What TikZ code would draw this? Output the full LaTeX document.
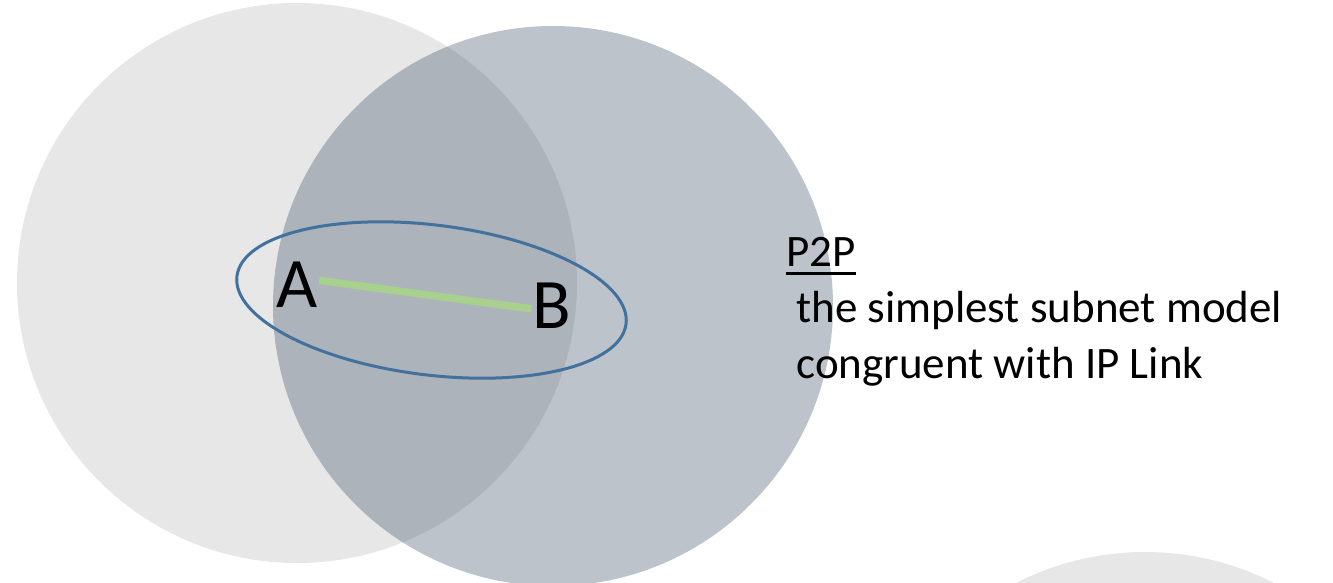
\documentclass[tikz,border=0pt]{standalone}
\usepackage{fontspec}
\setmainfont{Carlito}
\usepackage{tikz}
\usetikzlibrary{shapes.geometric}
\definecolor{lightdisc}{HTML}{E7E7E7}
\definecolor{slatedisc}{HTML}{4C5F74}
\definecolor{linkblue}{HTML}{41719C}
\definecolor{linkgreen}{HTML}{A9D18E}
\newcommand{\ulword}[1]{\setbox0\hbox{#1}\rlap{\rule[-8.5pt]{\wd0}{3pt}}\box0}

\begin{document}
\begin{tikzpicture}[x=1pt,y=-1pt,
    disc/.style={fill=lightdisc},
    slate disc/.style={fill=slatedisc,fill opacity=0.375},
    host/.style={font=\fontsize{71}{71}\selectfont,inner sep=1pt,anchor=base,text=black},
    subnet/.style={draw=linkblue,line width=3pt,ellipse,minimum width=392pt,minimum height=150pt,inner sep=0pt},
    link/.style={draw=linkgreen,line width=7.5pt},
    note/.style={font=\fontsize{45}{56}\selectfont,align=left,anchor=base west,inner sep=0pt}
]
    \useasboundingbox (0,0) rectangle (1333,582);
    \clip (0,0) rectangle (1333,582);

    % background discs
    \fill[disc] (297,283) circle (280pt);
    \fill[disc] (1145,835) circle (283pt);
    \fill[slate disc] (553,306) circle (280pt);

    % the point-to-point subnet
    \node[subnet,rotate=-7] (p2p) at (431.5,300) {};
    \node[host] (hostA) at (297.5,307) {A};
    \node[host] (hostB) at (552,328) {B};
    \draw[link] (hostA.10) -- (hostB.190);

    % anchored on the baseline of the last line
    \node[note] (caption) at (786,378)
        {\ulword{P2P}\\\ the simplest subnet model\\\ congruent with IP Link};
\end{tikzpicture}
\end{document}
